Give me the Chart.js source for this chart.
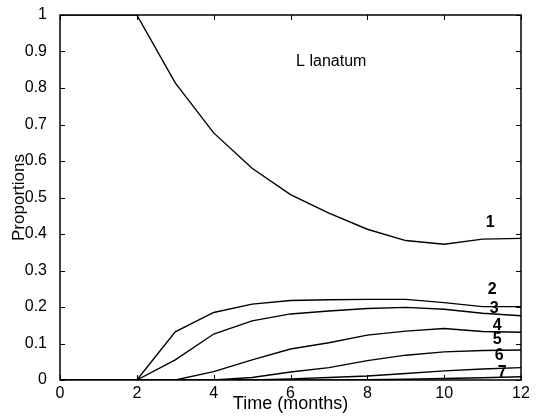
<!DOCTYPE html>
<html lang="en">
<head>
  <meta charset="UTF-8">
  <title>L lanatum proportions</title>
  <script src="https://cdn.jsdelivr.net/npm/chart.js"></script>
  <style>
    html, body { margin: 0; padding: 0; background: #fff; }
    #wrap { width: 536px; height: 418px; }
  </style>
</head>
<body>
  <div id="wrap"><canvas id="chart" width="536" height="418"></canvas></div>
  <script>
    // data, one value per month
    const months = [0, 1, 2, 3, 4, 5, 6, 7, 8, 9, 10, 11, 12];
    const s1 = [1, 1, 1, 0.814, 0.677, 0.58, 0.508, 0.457, 0.413, 0.382, 0.372, 0.386, 0.388];
    const s2 = [0, 0, 0, 0.132, 0.185, 0.208, 0.218, 0.22, 0.221, 0.221, 0.212, 0.201, 0.201];
    const s3 = [0, 0, 0, 0.055, 0.126, 0.162, 0.181, 0.189, 0.196, 0.199, 0.194, 0.183, 0.176];
    const s4 = [0, 0, 0, 0, 0.023, 0.055, 0.085, 0.102, 0.123, 0.134, 0.141, 0.133, 0.131];
    const s5 = [0, 0, 0, 0, 0, 0.007, 0.022, 0.034, 0.053, 0.068, 0.077, 0.081, 0.082];
    const s6 = [0, 0, 0, 0, 0, 0, 0.003, 0.007, 0.011, 0.018, 0.025, 0.03, 0.034];
    const s7 = [0, 0, 0, 0, 0, 0, 0, 0, 0.001, 0.002, 0.004, 0.006, 0.009];
    const seriesNames = ['1', '2', '3', '4', '5', '6', '7'];

    // where the class numbers sit (data units)
    const labelX = [11.2, 11.25, 11.3, 11.38, 11.38, 11.43, 11.51];
    const labelY = [0.43, 0.249, 0.197, 0.148, 0.110, 0.066, 0.019];
    const panelTitle = 'L lanatum';
    const panelTitleX = 7.06, panelTitleY = 0.871;

    const allSeries = [s1, s2, s3, s4, s5, s6, s7];
    const datasets = allSeries.map((vals, i) => ({
      label: seriesNames[i],
      data: months.map((m, j) => ({ x: m, y: vals[j] })),
      borderColor: '#000',
      borderWidth: 1.4,
      pointRadius: 0,
      tension: 0,
      fill: false
    }));

    // matlab style box + inward ticks + text
    const boxPlugin = {
      id: 'box',
      afterDraw(chart) {
        const { ctx, chartArea: a, scales: { x, y } } = chart;
        ctx.save();
        ctx.strokeStyle = '#000';
        ctx.lineWidth = 1.5;
        ctx.strokeRect(a.left, a.top, a.right - a.left, a.bottom - a.top);
        ctx.lineWidth = 1;
        const tl = 5;
        ctx.beginPath();
        x.ticks.forEach(t => {
          const px = Math.round(x.getPixelForValue(t.value)) + 0.5;
          ctx.moveTo(px, a.bottom); ctx.lineTo(px, a.bottom - tl);
          ctx.moveTo(px, a.top); ctx.lineTo(px, a.top + tl);
        });
        y.ticks.forEach(t => {
          const py = Math.round(y.getPixelForValue(t.value)) + 0.5;
          ctx.moveTo(a.left, py); ctx.lineTo(a.left + tl, py);
          ctx.moveTo(a.right, py); ctx.lineTo(a.right - tl, py);
        });
        ctx.stroke();

        ctx.fillStyle = '#000';
        ctx.textAlign = 'center';
        ctx.textBaseline = 'middle';
        ctx.font = '16px "Liberation Sans", Arial, sans-serif';
        ctx.fillText(panelTitle, x.getPixelForValue(panelTitleX), y.getPixelForValue(panelTitleY));
        ctx.font = 'bold 16px "Liberation Sans", Arial, sans-serif';
        seriesNames.forEach((n, i) => {
          ctx.fillText(n, x.getPixelForValue(labelX[i]), y.getPixelForValue(labelY[i]));
        });
        ctx.restore();
      }
    };

    const tickFont = { family: '"Liberation Sans", Arial, sans-serif', size: 16 };

    new Chart(document.getElementById('chart'), {
      type: 'line',
      data: { datasets },
      options: {
        responsive: false,
        animation: false,
        layout: { padding: { top: 15, right: 15, left: 0, bottom: 0 } },
        plugins: { legend: { display: false }, tooltip: { enabled: false } },
        scales: {
          x: {
            type: 'linear',
            min: 0, max: 12,
            ticks: { stepSize: 2, color: '#000', font: tickFont, padding: -4, maxRotation: 0 },
            grid: { display: false },
            border: { display: false },
            title: { display: true, text: 'Time (months)', color: '#000',
                     font: { family: '"Liberation Sans", Arial, sans-serif', size: 18 }, padding: { top: 0, bottom: 3 } },
            afterFit(s) { s.height = 38; }
          },
          y: {
            min: 0, max: 1,
            ticks: { stepSize: 0.1, color: '#000', font: tickFont, padding: 5,
                     callback: v => String(Number(v.toFixed(1))) },
            grid: { display: false },
            border: { display: false },
            title: { display: true, text: 'Proportions', color: '#000',
                     font: { family: '"Liberation Sans", Arial, sans-serif', size: 17 }, padding: { top: 9, bottom: 0 } },
            afterFit(s) { s.width = 60; }
          }
        }
      },
      plugins: [boxPlugin]
    });
  </script>
</body>
</html>
